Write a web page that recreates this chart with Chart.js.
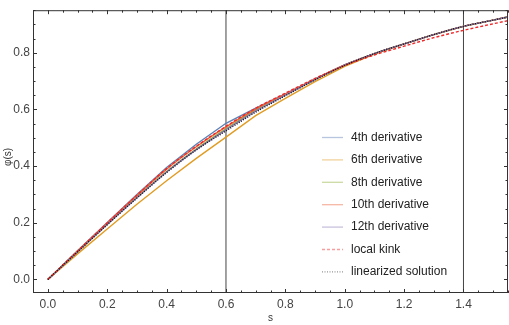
<!DOCTYPE html>
<html>
<head>
<meta charset="utf-8">
<script src="https://cdn.jsdelivr.net/npm/chart.js@4"></script>
<style>
  html, body { margin:0; padding:0; background:#fff; }
  #wrap { width:509px; height:325px; position:relative; }
</style>
</head>
<body>
<div id="wrap"><canvas id="chart"></canvas></div>
<script>
// values
const sVals = [0, 0.1, 0.2, 0.3, 0.4, 0.5, 0.6, 0.7, 0.8, 0.9, 1.0, 1.1, 1.2, 1.3, 1.4, 1.5, 1.55];
const deriv4  = [0, 0.101, 0.201, 0.300, 0.395, 0.477, 0.551, 0.604, 0.655, 0.708, 0.757, 0.797, 0.831, 0.864, 0.893, 0.915, 0.926];
const deriv6  = [0, 0.090, 0.178, 0.265, 0.348, 0.427, 0.502, 0.578, 0.639, 0.698, 0.752, 0.795, 0.831, 0.864, 0.893, 0.915, 0.926];
const deriv8  = [0, 0.098, 0.195, 0.290, 0.381, 0.460, 0.531, 0.597, 0.652, 0.706, 0.757, 0.797, 0.831, 0.864, 0.893, 0.915, 0.926];
const deriv10 = [0, 0.100, 0.199, 0.296, 0.389, 0.468, 0.538, 0.601, 0.654, 0.707, 0.757, 0.797, 0.831, 0.864, 0.893, 0.915, 0.926];
const deriv12 = [0, 0.097, 0.194, 0.288, 0.379, 0.458, 0.528, 0.594, 0.650, 0.705, 0.757, 0.797, 0.831, 0.864, 0.893, 0.915, 0.926];
const localKink  = [0, 0.100, 0.199, 0.297, 0.391, 0.470, 0.540, 0.604, 0.657, 0.709, 0.755, 0.792, 0.823, 0.853, 0.879, 0.902, 0.913];
const linearized = [0, 0.097, 0.193, 0.287, 0.377, 0.457, 0.524, 0.590, 0.648, 0.704, 0.755, 0.797, 0.831, 0.864, 0.893, 0.915, 0.926];

const markerS = [0.6, 1.4];
const xTicks = [0, 0.2, 0.4, 0.6, 0.8, 1.0, 1.2, 1.4];
const yTicks = [0, 0.2, 0.4, 0.6, 0.8];
const xRange = [-0.05, 1.55];
const yRange = [-0.048, 0.95];

const pts = ys => sVals.map((s,i)=>({x:s, y:ys[i]}));

const series = [
  {label:"4th derivative",  data:deriv4,  color:"#5E81B5", dash:[], kinked:true},
  {label:"6th derivative",  data:deriv6,  color:"#E19C24", dash:[], kinked:true},
  {label:"8th derivative",  data:deriv8,  color:"#8FB032", dash:[]},
  {label:"10th derivative", data:deriv10, color:"#EB6235", dash:[]},
  {label:"12th derivative", data:deriv12, color:"#8778B3", dash:[]},
  {label:"local kink",      data:localKink, color:"#F0282A", dash:[3,2]},
  {label:"linearized solution", data:linearized, color:"#111111", dash:[1,1.5]},
];

const datasets = series.map((d,i)=>({
  label:d.label, data:pts(d.data), borderColor:d.color, borderDash:d.dash,
  borderWidth:1.4, pointRadius:0, fill:false,
  cubicInterpolationMode: d.kinked ? "default" : "monotone", tension:0,
  order: series.length - i
}));
markerS.forEach(s=>datasets.push({
  label:"", data:[{x:s,y:yRange[0]},{x:s,y:yRange[1]}], borderColor:"#444",
  borderWidth:1, pointRadius:0, fill:false, order:20
}));

const FONT = "'Liberation Sans', Arial, sans-serif";

const frame = {
  id:"frame",
  afterDatasetsDraw(chart){
    const {ctx, chartArea:a, scales:{x, y}} = chart;
    ctx.save();
    ctx.strokeStyle = "#333"; ctx.lineWidth = 1;
    ctx.strokeRect(a.left+0.5, a.top+0.5, a.right-a.left-1, a.bottom-a.top-1);
    ctx.beginPath();
    for(let v=-0.05; v<=xRange[1]+1e-9; v+=0.05){
      const major = xTicks.some(t=>Math.abs(t-v)<1e-6);
      const px = Math.round(x.getPixelForValue(v))+0.5, len = major?4:2.5;
      ctx.moveTo(px, a.bottom); ctx.lineTo(px, a.bottom-len);
      ctx.moveTo(px, a.top); ctx.lineTo(px, a.top+len);
    }
    for(let v=0; v<=yRange[1]+1e-9; v+=0.05){
      const major = yTicks.some(t=>Math.abs(t-v)<1e-6);
      const py = Math.round(y.getPixelForValue(v))+0.5, len = major?4:2.5;
      ctx.moveTo(a.left, py); ctx.lineTo(a.left+len, py);
      ctx.moveTo(a.right, py); ctx.lineTo(a.right-len, py);
    }
    ctx.stroke();

    // y title
    ctx.fillStyle = "#333";
    ctx.font = "10px " + FONT;
    ctx.translate(8, 157); ctx.rotate(-Math.PI/2);
    ctx.textAlign = "center"; ctx.textBaseline = "middle";
    ctx.fillText("φ(s)", 0, 0);
    ctx.restore();

    // legend
    ctx.save();
    ctx.font = "12px " + FONT;
    ctx.textBaseline = "middle";
    series.forEach((d,i)=>{
      const ly = 137.5 + i*22.4;
      ctx.globalAlpha = 0.45;
      ctx.strokeStyle = d.color; ctx.lineWidth = 1.3; ctx.setLineDash(d.dash);
      ctx.beginPath(); ctx.moveTo(322, ly); ctx.lineTo(343, ly); ctx.stroke();
      ctx.globalAlpha = 1; ctx.setLineDash([]);
      ctx.fillStyle = "#222";
      ctx.fillText(d.label, 351, ly);
    });
    ctx.restore();
  }
};

new Chart(document.getElementById("chart"), {
  type:"line",
  data:{ datasets },
  options:{
    responsive:true, maintainAspectRatio:false, animation:false,
    layout:{ padding:{top:0, right:1, left:0, bottom:0} },
    plugins:{ legend:{display:false}, tooltip:{enabled:false} },
    scales:{
      x:{
        type:"linear", min:xRange[0], max:xRange[1],
        afterBuildTicks: s=>{ s.ticks = xTicks.map(v=>({value:v})); },
        afterFit: s=>{ s.height = 32; },
        grid:{display:false, drawTicks:false}, border:{display:false},
        ticks:{ padding:4, color:"#444", font:{family:FONT, size:12},
          callback:v=>Number(v).toFixed(1), maxRotation:0 },
        title:{ display:true, text:"s", color:"#333", padding:{top:0,bottom:1},
          font:{family:FONT, size:10} }
      },
      y:{
        type:"linear", min:yRange[0], max:yRange[1],
        afterBuildTicks: s=>{ s.ticks = yTicks.map(v=>({value:v})); },
        afterFit: s=>{ s.width = 33; },
        grid:{display:false, drawTicks:false}, border:{display:false},
        ticks:{ padding:3, color:"#444", font:{family:FONT, size:12},
          callback:v=>Number(v).toFixed(1) }
      }
    }
  },
  plugins:[frame]
});
</script>
</body>
</html>
